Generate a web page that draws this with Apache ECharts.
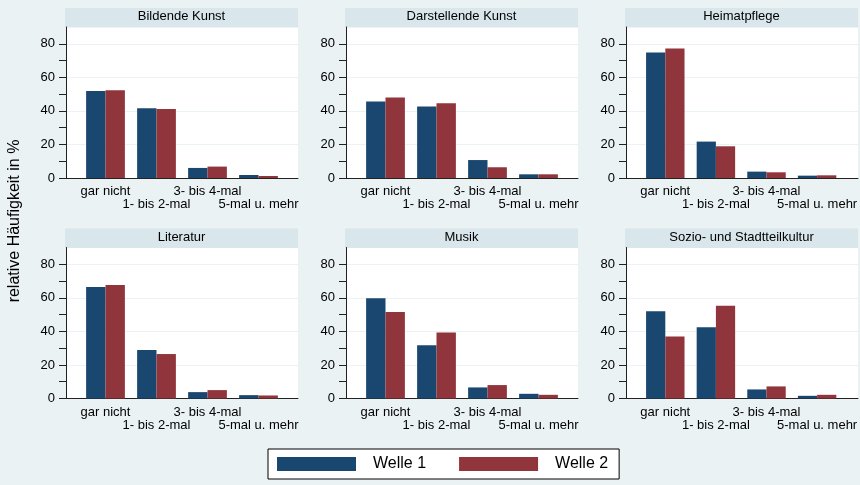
<!DOCTYPE html>
<html>
<head>
<meta charset="utf-8">
<script src="https://cdn.jsdelivr.net/npm/echarts@6/dist/echarts.min.js"></script>
<style>
html,body{margin:0;padding:0;background:#eaf2f3;}
#chart{width:860px;height:485px;}
</style>
</head>
<body>
<div id="chart"></div>
<script>
// ---- data ----
const categories = ['gar nicht', '1- bis 2-mal', '3- bis 4-mal', '5-mal u. mehr'];
const panelTitles = ['Bildende Kunst', 'Darstellende Kunst', 'Heimatpflege', 'Literatur', 'Musik', 'Sozio- und Stadtteilkultur'];
const seriesNames = ['Welle 1', 'Welle 2'];
const yTicks = [0, 20, 40, 60, 80];
const yAxisMax = 90;
const yAxisTitle = 'relative Häufigkeit in %';

const bildendeW1 = [51.9, 41.6, 6.0, 1.8];
const bildendeW2 = [52.3, 41.2, 6.8, 1.2];
const darstellendeW1 = [45.6, 42.6, 10.7, 2.2];
const darstellendeW2 = [48.0, 44.6, 6.4, 2.2];
const heimatW1 = [74.8, 21.7, 3.8, 1.4];
const heimatW2 = [77.2, 18.9, 3.4, 1.6];
const literaturW1 = [66.5, 28.9, 3.8, 2.0];
const literaturW2 = [67.7, 26.5, 5.0, 1.8];
const musikW1 = [59.7, 31.8, 6.6, 2.8];
const musikW2 = [51.5, 39.4, 8.0, 2.2];
const sozioW1 = [52.0, 42.4, 5.4, 1.6];
const sozioW2 = [37.0, 55.3, 7.2, 2.2];

const panelData = [
  [bildendeW1, bildendeW2],
  [darstellendeW1, darstellendeW2],
  [heimatW1, heimatW2],
  [literaturW1, literaturW2],
  [musikW1, musikW2],
  [sozioW1, sozioW2]
];

// ---- layout / style ----
const FONT = 'Liberation Sans, Arial, sans-serif';
const colors = ['#1a476f', '#90353b'];
const bg = '#eaf2f3';
const stripColor = '#d9e6eb';
const gridLineColor = '#eaf2f3';
const axisColor = '#222';
const colLefts = [66, 346, 626];
const plotWidth = 232;
const rowTops = [27, 247.5];
const plotHeight = 151;
const barInset = 14;

const grids = [], xAxes = [], yAxes = [], series = [], graphics = [];
const tickMax = yTicks[yTicks.length - 1];
const tickInterval = yTicks[1] - yTicks[0];

panelData.forEach((pair, p) => {
  const left = colLefts[p % 3];
  const top = rowTops[Math.floor(p / 3)];
  const tickHeight = plotHeight * tickMax / yAxisMax;
  // grid A: white plot area + axis lines
  grids.push({left: left, top: top, width: plotWidth, height: plotHeight, show: true,
    backgroundColor: '#fff', borderWidth: 0, containLabel: false});
  xAxes.push({gridIndex: 3 * p, type: 'value', min: 0, max: 1,
    axisLine: {show: true, lineStyle: {color: axisColor, width: 1}},
    axisTick: {show: false}, axisLabel: {show: false}, splitLine: {show: false}});
  yAxes.push({gridIndex: 3 * p, type: 'value', min: 0, max: yAxisMax,
    axisLine: {show: true, lineStyle: {color: axisColor, width: 1}},
    axisTick: {show: false}, axisLabel: {show: false}, splitLine: {show: false}});
  // grid B: ticks, labels, gridlines
  grids.push({left: left, top: top + plotHeight - tickHeight, width: plotWidth, height: tickHeight, show: false});
  xAxes.push({gridIndex: 3 * p + 1, type: 'value', min: 0, max: 1, show: false});
  yAxes.push({gridIndex: 3 * p + 1, type: 'value', min: yTicks[0], max: tickMax, interval: tickInterval,
    axisLine: {show: false},
    axisTick: {show: true, length: 7, lineStyle: {color: axisColor, width: 1}},
    minorTick: {show: true, splitNumber: 2, length: 7, lineStyle: {color: axisColor, width: 1}},
    axisLabel: {show: true, margin: 11, fontSize: 13, color: '#000', fontFamily: FONT},
    splitLine: {show: true, lineStyle: {color: gridLineColor, width: 1}},
    minorSplitLine: {show: false}});
  // grid C: bars
  grids.push({left: left + barInset, top: top, width: plotWidth - 2 * barInset, height: plotHeight, show: false});
  xAxes.push({gridIndex: 3 * p + 2, type: 'category', data: categories,
    axisLine: {show: false}, axisTick: {show: false},
    axisLabel: {show: true, interval: 0, margin: 7, fontSize: 13, lineHeight: 13, color: '#000', fontFamily: FONT,
      verticalAlign: 'top',
      formatter: (v, i) => (i % 2 ? '\n' + v : v)}});
  yAxes.push({gridIndex: 3 * p + 2, type: 'value', min: 0, max: yAxisMax, show: false});
  pair.forEach((vals, s) => {
    series.push({type: 'bar', name: seriesNames[s], xAxisIndex: 3 * p + 2, yAxisIndex: 3 * p + 2,
      data: vals, barGap: '0%', barCategoryGap: '24%', itemStyle: {color: colors[s]}, silent: true});
  });
  // title strip
  graphics.push({type: 'rect', left: left - 1, top: top - 19, shape: {width: plotWidth + 1, height: 19.5},
    style: {fill: stripColor}, silent: true});
  graphics.push({type: 'text', x: left - 1 + (plotWidth + 1) / 2, y: top - 19 + 8.5,
    style: {text: panelTitles[p], fill: '#000', font: '13px ' + FONT, textAlign: 'center', textVerticalAlign: 'middle'},
    silent: true});
});

graphics.push({type: 'text', x: 15, y: 221, rotation: Math.PI / 2,
  style: {text: yAxisTitle, fill: '#000', font: '16px ' + FONT, textAlign: 'center', textVerticalAlign: 'middle'},
  silent: true});

const chart = echarts.init(document.getElementById('chart'), null, {renderer: 'canvas'});
chart.setOption({
  backgroundColor: bg,
  animation: false,
  grid: grids,
  xAxis: xAxes,
  yAxis: yAxes,
  series: series,
  graphic: graphics,
  legend: {
    data: seriesNames,
    left: 268, top: 449,
    icon: 'rect', itemWidth: 79, itemHeight: 14, itemGap: 33,
    padding: [7, 11, 7, 9],
    backgroundColor: '#fff', borderColor: '#000', borderWidth: 1,
    textStyle: {fontSize: 16, color: '#000', fontFamily: FONT, padding: [0, 0, 0, 12]},
    selectedMode: false
  }
});
</script>
</body>
</html>
